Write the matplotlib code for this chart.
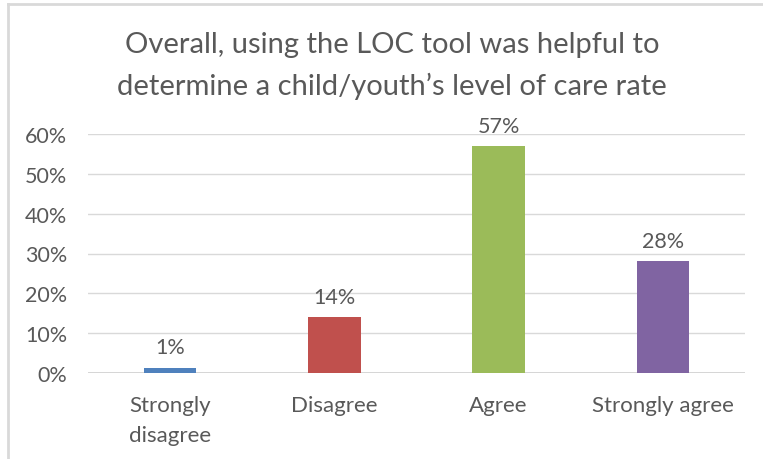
import matplotlib.pyplot as plt
from matplotlib.lines import Line2D

categories = ["Strongly\ndisagree", "Disagree", "Agree", "Strongly agree"]
values = [1.3, 14, 57, 28]
labels = ["1%", "14%", "57%", "28%"]
colors = ["#4f81bd", "#c0504d", "#9bbb59", "#8064a2"]
yticks = [0, 10, 20, 30, 40, 50, 60]

plt.rcParams['font.family'] = ['Lato', 'DejaVu Sans']
text_col = "#595959"

fig = plt.figure(figsize=(7.63, 4.60), dpi=100)
ax = fig.add_axes([88 / 763, 1 - 374 / 460, (745 - 88) / 763, (374 - 135) / 460])

x = range(len(categories))
ax.bar(x, values, width=0.32, color=colors, zorder=3)
for xi, v, lab in zip(x, values, labels):
    ax.text(xi, v + 2.6, lab, ha="center", va="bottom", fontsize=15.5, color=text_col)

ax.set_ylim(0, 60)
ax.set_xlim(-0.5, 3.5)
ax.set_yticks(yticks)
ax.set_yticklabels([f"{t}%" for t in yticks], fontsize=15.5, color=text_col)
ax.set_xticks(list(x))
ax.set_xticklabels(categories, fontsize=16, color=text_col, linespacing=1.6)
ax.tick_params(axis="y", length=0, pad=15)
ax.tick_params(axis="x", length=0, pad=16)
ax.grid(axis="y", color="#d9d9d9", linewidth=1, zorder=0)
for s in ax.spines.values():
    s.set_visible(False)
ax.axhline(0, color="#d0d0d0", linewidth=1.2, zorder=2)

fig.text(392 / 763, 1 - 66 / 460,
         "Overall, using the LOC tool was helpful to\ndetermine a child/youth\u2019s level of care rate",
         ha="center", va="center", fontsize=21, color=text_col, linespacing=1.65)

# chart border (partly outside the image)
fig.add_artist(Line2D([7.5 / 763, 7.5 / 763], [0, 1 - 4.5 / 460], color="#d9d9d9", linewidth=2, transform=fig.transFigure))
fig.add_artist(Line2D([7.5 / 763, 1], [1 - 4.5 / 460, 1 - 4.5 / 460], color="#d9d9d9", linewidth=2, transform=fig.transFigure))

fig.savefig("out.png", dpi=100)
